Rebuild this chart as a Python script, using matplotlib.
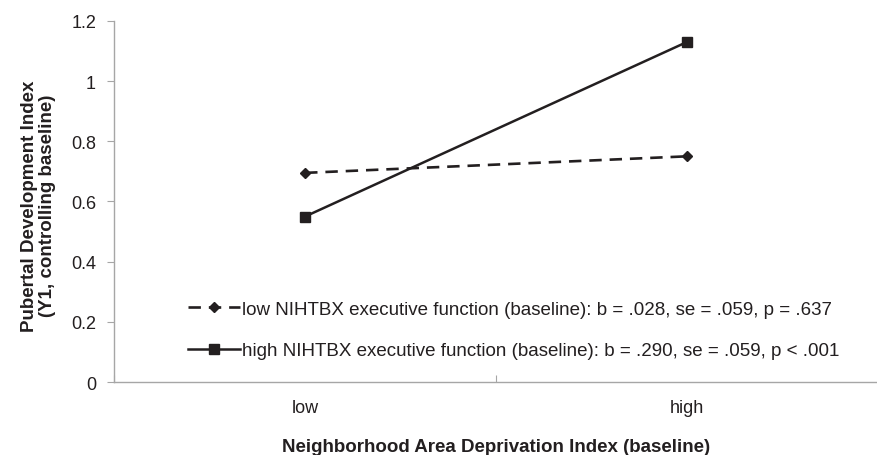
import matplotlib
matplotlib.use("Agg")
import matplotlib.pyplot as plt

# Data
categories = ["low", "high"]
low_ef = [0.695, 0.75]
high_ef = [0.55, 1.13]
low_label = "low NIHTBX executive function (baseline): b = .028, se = .059, p = .637"
high_label = "high NIHTBX executive function (baseline): b = .290, se = .059, p < .001"
y_ticks = [0, 0.2, 0.4, 0.6, 0.8, 1, 1.2]
y_tick_labels = ["0", "0.2", "0.4", "0.6", "0.8", "1", "1.2"]

ink = "#231f20"
axis_gray = "#a6a6a6"

plt.rcParams["font.family"] = ["Liberation Sans", "DejaVu Sans"]


def main():
    fig = plt.figure(figsize=(8.78, 4.56), dpi=100)
    ax = fig.add_axes([0.130, 0.160, 0.870, 0.792])

    x = list(range(len(categories)))
    ax.plot(x, low_ef, color=ink, lw=1.9, linestyle=(0, (4.7, 3.0)),
            marker="D", markersize=5, label=low_label)
    ax.plot(x, high_ef, color=ink, lw=1.8, linestyle="-",
            marker="s", markersize=7.5, label=high_label)

    ax.set_xlim(-0.5, 1.5)
    ax.set_ylim(0, 1.2)

    # category boundaries carry the tick marks, labels sit in between
    ax.set_xticks([-0.5, 0.5, 1.5])
    ax.set_xticklabels([])
    ax.set_xticks(x, minor=True)
    ax.set_xticklabels(categories, minor=True)
    ax.tick_params(axis="x", which="minor", length=0, pad=12, labelsize=13, labelcolor=ink)
    ax.tick_params(axis="x", which="major", length=5, direction="in", color=axis_gray)

    ax.set_yticks(y_ticks)
    ax.set_yticklabels(y_tick_labels)
    ax.tick_params(axis="y", length=5, color=axis_gray, labelsize=13, labelcolor=ink, pad=8)

    for side in ["top", "right"]:
        ax.spines[side].set_visible(False)
    for side in ["left", "bottom"]:
        ax.spines[side].set_color(axis_gray)
        ax.spines[side].set_linewidth(1)

    ax.set_ylabel("Pubertal Development Index\n(Y1, controlling baseline)",
                  fontsize=13.5, fontweight="bold", color=ink, linespacing=1.05)
    ax.yaxis.set_label_coords(-0.076, 0.49)
    ax.set_xlabel("Neighborhood Area Deprivation Index (baseline)",
                  fontsize=13.5, fontweight="bold", color=ink, labelpad=16)

    ax.legend(loc="center left", bbox_to_anchor=(0.097, 0.144), frameon=False,
              fontsize=13.5, handlelength=2.77, handletextpad=0.1,
              labelspacing=1.3, borderpad=0, borderaxespad=0, labelcolor=ink)

    fig.savefig("out.png", dpi=100)


if __name__ == "__main__":
    main()
